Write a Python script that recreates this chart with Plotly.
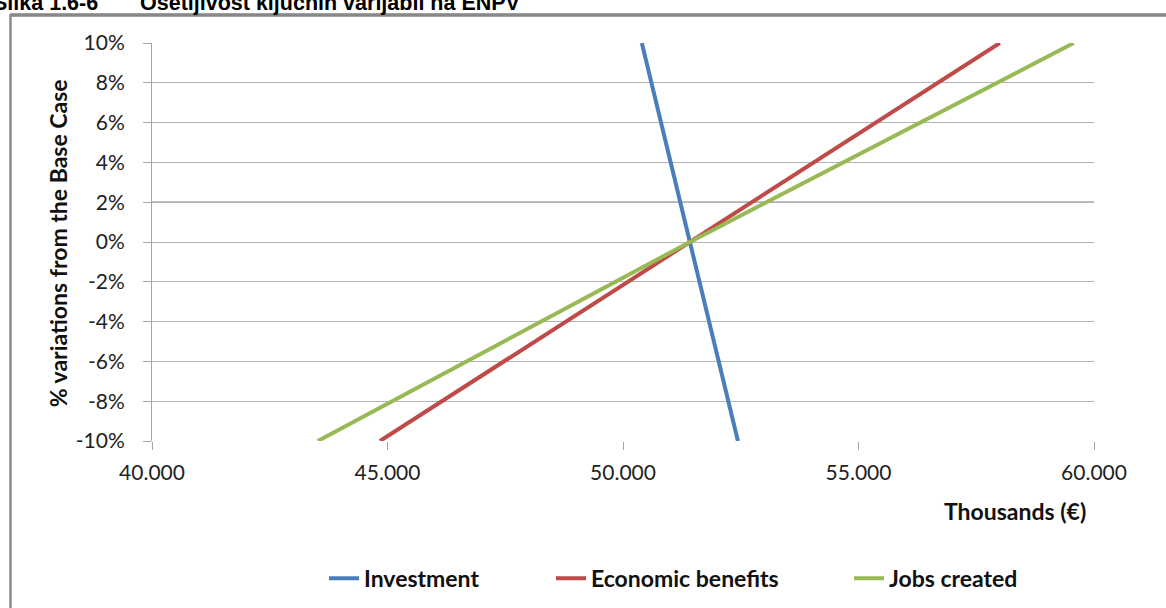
import plotly.graph_objects as go

# Data (x in thousands of EUR, y = % variation from base case)
variation = [-0.10, 0.0, 0.10]
investment = [52440, 51420, 50400]
economic_benefits = [44840, 51420, 58000]
jobs_created = [43520, 51420, 59570]

series_names = ["Investment", "Economic benefits", "Jobs created"]
colors = ["#4A7EBB", "#BE4B48", "#98B954"]

y_tickvals = [-0.10, -0.08, -0.06, -0.04, -0.02, 0.0, 0.02, 0.04, 0.06, 0.08, 0.10]
y_ticktext = ["-10%", "-8%", "-6%", "-4%", "-2%", "0%", "2%", "4%", "6%", "8%", "10%"]
x_tickvals = [40000, 45000, 50000, 55000, 60000]
x_ticktext = ["40.000", "45.000", "50.000", "55.000", "60.000"]

W, H = 1166, 608
L, R, T, B = 152, 1094, 42.7, 440.7  # plot area in px
PW, PH = R - L, B - T

def px(xp):
    return (xp - L) / PW

def py(yp):
    return (B - yp) / PH

FONT = "Lato"

fig = go.Figure()
legend_ids = ["legend", "legend2", "legend3"]
for name, xs, c, lg in zip(series_names, [investment, economic_benefits, jobs_created], colors, legend_ids):
    fig.add_trace(go.Scatter(x=xs, y=variation, mode="lines", name=name,
                             line=dict(color=c, width=4), legend=lg))

legend_text_start = [365, 592, 890]
legend_style = dict(orientation="h", yanchor="middle", y=py(578), xanchor="left",
                    font=dict(family=FONT, size=23, color="#111", weight="bold"),
                    itemwidth=30, bgcolor="rgba(0,0,0,0)", borderwidth=0)
legends = {}
for lg, ts in zip(legend_ids, legend_text_start):
    legends[lg] = dict(legend_style, x=px(ts - 41))

fig.update_layout(
    width=W, height=H,
    margin=dict(l=L, r=W - R, t=T, b=H - B, autoexpand=False),
    paper_bgcolor="white", plot_bgcolor="white",
    showlegend=True,
    font=dict(family=FONT, color="#222"),
    **legends,
)

fig.update_xaxes(range=[40000, 60000], tickvals=x_tickvals, ticktext=x_ticktext,
                 showgrid=False, zeroline=False, showline=False,
                 ticks="outside", ticklen=8, tickcolor="#a6a6a6", tickwidth=1,
                 tickfont=dict(family=FONT, size=21, color="#222"),
                 ticklabelstandoff=5)
fig.update_yaxes(range=[-0.10, 0.10], tickvals=y_tickvals, ticktext=y_ticktext,
                 showgrid=True, gridcolor="#b3b3b3", gridwidth=1.2,
                 zeroline=False, showline=True, linecolor="#a6a6a6", linewidth=1,
                 ticks="outside", ticklen=8, tickcolor="#a6a6a6", tickwidth=1,
                 tickfont=dict(family=FONT, size=21, color="#222"),
                 ticklabelstandoff=14)

# darker gridline at 2%
fig.add_shape(type="line", xref="paper", yref="y", x0=0, x1=1, y0=0.02, y1=0.02,
              line=dict(color="#8a8a8a", width=1.5), layer="below")
# chart frame
fig.add_shape(type="rect", xref="paper", yref="paper",
              x0=px(10.5), x1=px(1175), y0=py(14.7), y1=py(620),
              line=dict(color="#8c8c8c", width=2.5), layer="below")
fig.add_shape(type="line", xref="paper", yref="paper",
              x0=px(10.5), x1=px(1175), y0=py(14.7), y1=py(14.7),
              line=dict(color="#888888", width=3.5), layer="below")

# axis titles
fig.add_annotation(text="<b>% variations from the Base Case</b>", xref="paper", yref="paper",
                   x=px(58), y=py(243), xanchor="center", yanchor="middle", textangle=-90,
                   showarrow=False, font=dict(family=FONT, size=23, color="#111"))
fig.add_annotation(text="<b>Thousands (€)</b>", xref="paper", yref="paper",
                   x=px(1088), y=py(511), xanchor="right", yanchor="middle",
                   showarrow=False, font=dict(family=FONT, size=23, color="#111"))

# figure caption (partly cut off at the top, as in the source page)
fig.add_annotation(text="<b>Slika 1.6-6</b>", xref="paper", yref="paper",
                   x=px(100), y=py(2.4), xanchor="right", yanchor="middle",
                   showarrow=False, font=dict(family="Liberation Sans", size=21.5, color="#000"))
fig.add_annotation(text="<b>Osetljivost ključnih varijabli na ENPV</b>", xref="paper", yref="paper",
                   x=px(138), y=py(2.4), xanchor="left", yanchor="middle",
                   showarrow=False, font=dict(family="Liberation Sans", size=21.5, color="#000"))

fig.write_html("out.html")
